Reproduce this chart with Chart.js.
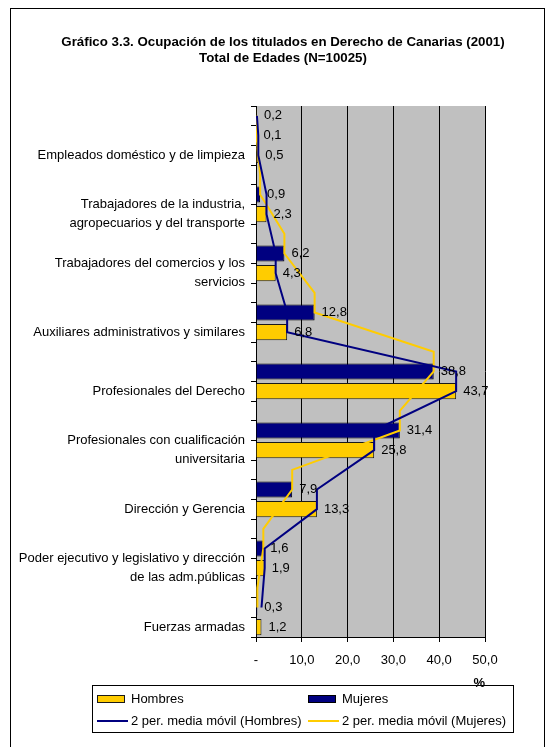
<!DOCTYPE html>
<html lang="es">
<head>
<meta charset="utf-8">
<title>Gráfico 3.3. Ocupación de los titulados en Derecho de Canarias (2001)</title>
<script src="https://cdn.jsdelivr.net/npm/chart.js@4.4.0/dist/chart.umd.min.js"></script>
<style>
  html, body { margin: 0; padding: 0; background: #fff; }
  #wrap { position: relative; width: 554px; height: 747px; }
</style>
</head>
<body>
<div id="wrap"><canvas id="ocupacionChart"></canvas></div>
<script>
// Filas de arriba abajo: cada ocupación usa tres filas (mujeres, hombres, hueco)
const categorias = [
  "", "", "Empleados doméstico y de limpieza",
  "", "", ["Trabajadores de la industria,", "agropecuarios y del transporte"],
  "", "", ["Trabajadores del comercios y los", "servicios"],
  "", "", "Auxiliares administrativos y similares",
  "", "", "Profesionales del Derecho",
  "", "", ["Profesionales con cualificación", "universitaria"],
  "", "", "Dirección y Gerencia",
  "", "", ["Poder ejecutivo y legislativo y dirección", "de las adm.públicas"],
  "", "", "Fuerzas armadas"
];

const hombres = [0.2, null, 0.5, null, null, 2.3, null, null, 4.3, null, null, 6.8, null, null, 43.7,
  null, null, 25.8, null, null, 13.3, null, null, 1.9, null, null, 1.2];
const mujeres = [null, 0.1, null, null, 0.9, null, null, 6.2, null, null, 12.8, null, null, 38.8, null,
  null, 31.4, null, null, 7.9, null, null, 1.6, null, null, 0.3, null];

// medias móviles de 2 periodos
const mediaHombres = [0.2, 0.5, 0.5, null, 2.3, 2.3, null, 4.3, 4.3, null, 6.8, 6.8, null, 43.7, 43.7,
  null, 25.8, 25.8, null, 13.3, 13.3, null, 1.9, 1.9, null, 1.2, null];
const mediaMujeres = [0.1, 0.1, null, 0.9, 0.9, null, 6.2, 6.2, null, 12.8, 12.8, null, 38.8, 38.8, null,
  31.4, 31.4, null, 7.9, 7.9, null, 1.6, 1.6, null, 0.3, 0.3, null];

const ticksX = [0, 10, 20, 30, 40, 50];

const titulo = [
  "Gráfico 3.3. Ocupación de los titulados en Derecho de Canarias (2001)",
  "Total de Edades (N=10025)"
];

const AMARILLO = "#ffcc00";
const AZUL = "#000080";
const FUENTE = "'Liberation Sans', Arial, sans-serif";
const TAM = 13;
const TAM_TITULO = 13.3;

Chart.defaults.font.family = FUENTE;
Chart.defaults.font.size = TAM;
Chart.defaults.color = "#000";

const fmt = v => v.toFixed(1).replace(".", ",");

// fondo gris del área, marco, título y leyenda
const decorado = {
  id: "decorado",
  beforeDraw(chart) {
    const { ctx, chartArea: a } = chart;
    ctx.save();
    ctx.fillStyle = "#fff";
    ctx.fillRect(0, 0, chart.width, chart.height);
    ctx.fillStyle = "#c0c0c0";
    ctx.fillRect(a.left, a.top, a.right - a.left, a.bottom - a.top);
    ctx.restore();
  },
  afterDraw(chart) {
    const ctx = chart.ctx;
    ctx.save();

    ctx.strokeStyle = "#000";
    ctx.lineWidth = 1;
    ctx.strokeRect(10.5, 8.5, 534, 760);

    ctx.fillStyle = "#000";
    ctx.font = "bold " + TAM_TITULO + "px " + FUENTE;
    ctx.textAlign = "center";
    ctx.textBaseline = "middle";
    titulo.forEach((t, i) => ctx.fillText(t, 283, 42 + i * 16));

    // leyenda en dos columnas
    ctx.strokeRect(92.5, 685.5, 421, 47);
    const celdas = [[97, 699], [308, 699], [97, 721], [308, 721]];
    ctx.font = TAM + "px " + FUENTE;
    ctx.textAlign = "left";
    chart.data.datasets.forEach((ds, i) => {
      const [x, y] = celdas[i];
      if (ds.type === "line") {
        ctx.strokeStyle = ds.borderColor;
        ctx.lineWidth = 2;
        ctx.beginPath();
        ctx.moveTo(x, y);
        ctx.lineTo(x + 31, y);
        ctx.stroke();
      } else {
        ctx.fillStyle = ds.backgroundColor;
        ctx.fillRect(x, y - 4, 28, 7);
        ctx.strokeStyle = ds.borderColor;
        ctx.lineWidth = 1;
        ctx.strokeRect(x + 0.5, y - 3.5, 27, 7);
      }
      ctx.fillStyle = "#000";
      ctx.fillText(ds.label, x + 34, y);
    });
    ctx.restore();
  }
};

// valores junto al extremo de cada barra
const etiquetas = {
  id: "etiquetas",
  afterDatasetsDraw(chart) {
    const ctx = chart.ctx;
    ctx.save();
    ctx.fillStyle = "#000";
    ctx.font = TAM + "px " + FUENTE;
    ctx.textAlign = "left";
    ctx.textBaseline = "middle";
    chart.data.datasets.forEach((ds, di) => {
      if (ds.type === "line") return;
      chart.getDatasetMeta(di).data.forEach((el, i) => {
        const v = ds.data[i];
        if (v === null) return;
        ctx.fillText(fmt(v), el.x + 7, el.y);
      });
    });
    ctx.restore();
  }
};

new Chart(document.getElementById("ocupacionChart"), {
  data: {
    labels: categorias,
    datasets: [
      {
        type: "bar", label: "Hombres", data: hombres, indexAxis: "y",
        backgroundColor: AMARILLO, borderColor: "#1a1a1a", borderWidth: 1,
        grouped: false, barPercentage: 0.82, categoryPercentage: 1, order: 1
      },
      {
        type: "bar", label: "Mujeres", data: mujeres, indexAxis: "y",
        backgroundColor: AZUL, borderColor: "#000", borderWidth: 1,
        grouped: false, barPercentage: 0.82, categoryPercentage: 1, order: 1
      },
      {
        type: "line", label: "2 per. media móvil (Hombres)", data: mediaHombres, indexAxis: "y",
        borderColor: AZUL, borderWidth: 2, pointRadius: 0, spanGaps: true, tension: 0, order: 0
      },
      {
        type: "line", label: "2 per. media móvil (Mujeres)", data: mediaMujeres, indexAxis: "y",
        borderColor: AMARILLO, borderWidth: 2, pointRadius: 0, spanGaps: true, tension: 0, order: 0
      }
    ]
  },
  options: {
    indexAxis: "y",
    responsive: true,
    maintainAspectRatio: false,
    animation: false,
    layout: { padding: { top: 106, left: 10, right: 69, bottom: 0 } },
    plugins: {
      legend: { display: false },
      title: { display: false },
      tooltip: { enabled: false }
    },
    scales: {
      x: {
        type: "linear",
        min: 0,
        max: 50,
        afterBuildTicks: scale => { scale.ticks = ticksX.map(v => ({ value: v })); },
        ticks: { callback: v => v === 0 ? "-" : fmt(v), padding: 11, color: "#000" },
        grid: { color: "#000", lineWidth: 1, tickLength: 5 },
        border: { color: "#000" },
        title: {
          display: true, text: "%", align: "end", color: "#000",
          font: { size: TAM, weight: "bold" }, padding: { top: 0, bottom: 56 }
        },
        afterFit: scale => { scale.height = 110; }
      },
      y: {
        type: "category",
        ticks: { autoSkip: false, padding: 6, color: "#000", font: { size: TAM, lineHeight: 1.45 } },
        grid: { drawOnChartArea: false, tickLength: 5, color: "#000", offset: true },
        border: { color: "#000" },
        afterFit: scale => { scale.width = 246; }
      }
    }
  },
  plugins: [decorado, etiquetas]
});
</script>
</body>
</html>
